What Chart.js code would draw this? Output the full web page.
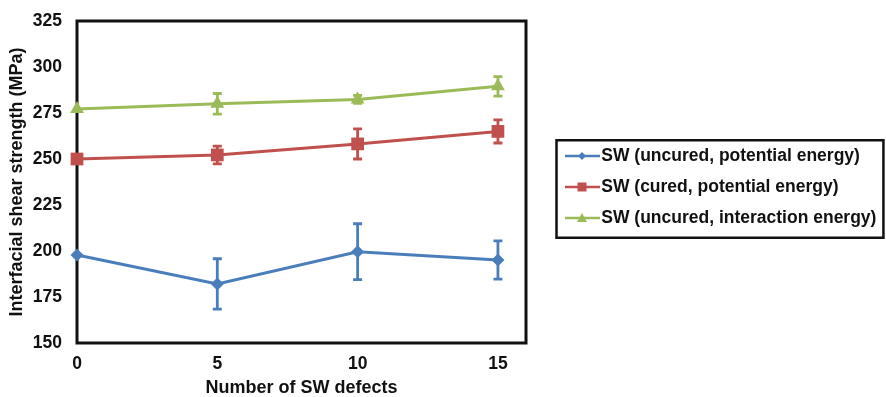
<!DOCTYPE html>
<html>
<head>
<meta charset="utf-8">
<script src="https://cdn.jsdelivr.net/npm/chart.js@4"></script>
<style>
  html, body { margin: 0; padding: 0; background: #fff; }
  #wrap { width: 886px; height: 397px; }
</style>
</head>
<body>
<div id="wrap"><canvas id="chart"></canvas></div>
<script>
const defects = [0, 5, 10, 15]
const xTicks = [0, 5, 10, 15]
const yTicks = [150, 175, 200, 225, 250, 275, 300, 325]

const uncuredPotential = [197.8, 182.1, 199.6, 195.1]
const uncuredPotentialErr = [0, 13.7, 15.2, 10.4]
const curedPotential = [250, 252.2, 258.2, 265]
const curedPotentialErr = [0, 4.8, 8.2, 6.3]
const uncuredInteraction = [277.2, 280, 282.4, 289.5]
const uncuredInteractionErr = [0, 5.6, 2.2, 5.3]

const labels = [
	'SW (uncured, potential energy)',
	'SW (cured, potential energy)',
	'SW (uncured, interaction energy)'
]
const colors = ['#4a7ebb', '#c0504d', '#9bbb59']
const styles = ['rectRot', 'rect', 'triangle']
const radii = [6.5, 9, 8]
const FONT = 'Arial, "Liberation Sans", sans-serif'

function toPoints(vals) {
	return vals.map((v, i) => ({ x: defects[i], y: v }))
}

const series = [uncuredPotential, curedPotential, uncuredInteraction]
const errors = [uncuredPotentialErr, curedPotentialErr, uncuredInteractionErr]

const datasets = series.map((vals, i) => ({
	label: labels[i],
	data: toPoints(vals),
	errors: errors[i],
	borderColor: colors[i],
	backgroundColor: colors[i],
	borderWidth: 3,
	pointStyle: styles[i],
	pointRadius: radii[i],
	pointBorderWidth: 0,
	tension: 0,
	clip: false
}))

// line + marker glyph for the legend (wider than its box so it reaches the text)
function legendGlyph(color, style) {
	const c = document.createElement('canvas')
	c.width = 68
	c.height = 14
	const g = c.getContext('2d')
	g.strokeStyle = color
	g.fillStyle = color
	g.lineWidth = 2.5
	g.beginPath()
	g.moveTo(33, 7)
	g.lineTo(68, 7)
	g.stroke()
	g.beginPath()
	const m = 50
	if (style === 'rectRot') {
		g.moveTo(m, 3); g.lineTo(m + 4, 7); g.lineTo(m, 11); g.lineTo(m - 4, 7)
	} else if (style === 'rect') {
		g.rect(m - 4.5, 2.5, 9, 9)
	} else {
		g.moveTo(m, 2); g.lineTo(m + 5, 11); g.lineTo(m - 5, 11)
	}
	g.closePath()
	g.fill()
	return c
}

const errorBars = {
	id: 'errorBars',
	afterDatasetsDraw(chart) {
		const ctx = chart.ctx
		const y = chart.scales.y
		ctx.save()
		chart.data.datasets.forEach((ds, i) => {
			const meta = chart.getDatasetMeta(i)
			ctx.strokeStyle = ds.borderColor
			ctx.lineWidth = 2.8
			ds.data.forEach((p, j) => {
				const e = ds.errors[j]
				if (!e) return
				const px = meta.data[j].x
				const top = y.getPixelForValue(p.y + e)
				const bot = y.getPixelForValue(p.y - e)
				ctx.beginPath()
				ctx.moveTo(px, top); ctx.lineTo(px, bot)
				ctx.moveTo(px - 4.5, top); ctx.lineTo(px + 4.5, top)
				ctx.moveTo(px - 4.5, bot); ctx.lineTo(px + 4.5, bot)
				ctx.stroke()
			})
		})
		ctx.restore()
	}
}

const frames = {
	id: 'frames',
	beforeDatasetsDraw(chart) {
		const ctx = chart.ctx
		const a = chart.chartArea
		ctx.save()
		ctx.strokeStyle = '#111'
		ctx.lineWidth = 3
		ctx.strokeRect(a.left, a.top, a.right - a.left, a.bottom - a.top)
		ctx.restore()
	},
	afterDraw(chart) {
		const ctx = chart.ctx
		const hb = chart.legend.legendHitBoxes
		if (!hb || !hb.length) return
		const l = Math.min(...hb.map(b => b.left)) + 17
		const t = Math.min(...hb.map(b => b.top)) - 7
		const r = Math.max(...hb.map(b => b.left + b.width)) + 7
		const bm = Math.max(...hb.map(b => b.top + b.height)) + 11
		ctx.save()
		ctx.strokeStyle = '#111'
		ctx.lineWidth = 2.5
		ctx.strokeRect(l, t, Math.min(r, chart.width - 2) - l, bm - t)
		ctx.restore()
	}
}

function plotGraph() {
	const ctx = document.getElementById('chart').getContext('2d')
	new Chart(ctx, {
		type: 'line',
		data: { datasets: datasets },
		plugins: [errorBars, frames],
		options: {
			responsive: true,
			maintainAspectRatio: false,
			animation: { duration: 0 },
			layout: { padding: { left: 4, right: 0, top: 21, bottom: 0 } },
			plugins: {
				tooltip: { enabled: false },
				legend: {
					position: 'right',
					fullSize: false,
					maxWidth: 360,
					title: { display: true, text: ' ', padding: 0, font: { size: 8, lineHeight: 1.25 } },
					labels: {
						usePointStyle: true,
						pointStyleWidth: 53,
						padding: 13.5,
						color: '#111',
						font: { family: FONT, size: 17.5, weight: 'bold' },
						generateLabels(chart) {
							return Chart.defaults.plugins.legend.labels.generateLabels(chart).map((it, i) => {
								it.pointStyle = legendGlyph(colors[i], styles[i])
								return it
							})
						}
					}
				}
			},
			scales: {
				x: {
					type: 'linear',
					min: 0,
					max: 16,
					afterBuildTicks: s => { s.ticks = xTicks.map(v => ({ value: v })) },
					afterFit: s => { s.height = 54; s.paddingLeft = 0; s.paddingRight = 0 },
					grid: { display: false, drawTicks: false },
					border: { display: false },
					ticks: {
						padding: 10.5,
						color: '#111',
						font: { family: FONT, size: 17.5, weight: 'bold' }
					},
					title: {
						display: true,
						text: 'Number of SW defects',
						color: '#111',
						padding: { top: 3, bottom: 0 },
						font: { family: FONT, size: 18, weight: 'bold', lineHeight: 1.0 }
					}
				},
				y: {
					min: 150,
					max: 325,
					afterBuildTicks: s => { s.ticks = yTicks.map(v => ({ value: v })) },
					afterFit: s => { s.width = 73; s.paddingTop = 0; s.paddingBottom = 0 },
					grid: { display: false, drawTicks: false },
					border: { display: false },
					ticks: {
						padding: 15,
						color: '#111',
						font: { family: FONT, size: 17.5, weight: 'bold' }
					},
					title: {
						display: true,
						text: 'Interfacial shear strength (MPa)',
						color: '#111',
						padding: { top: 2, bottom: 5 },
						font: { family: FONT, size: 18, weight: 'bold' }
					}
				}
			}
		}
	})
}

document.addEventListener('DOMContentLoaded', plotGraph)
</script>
</body>
</html>
